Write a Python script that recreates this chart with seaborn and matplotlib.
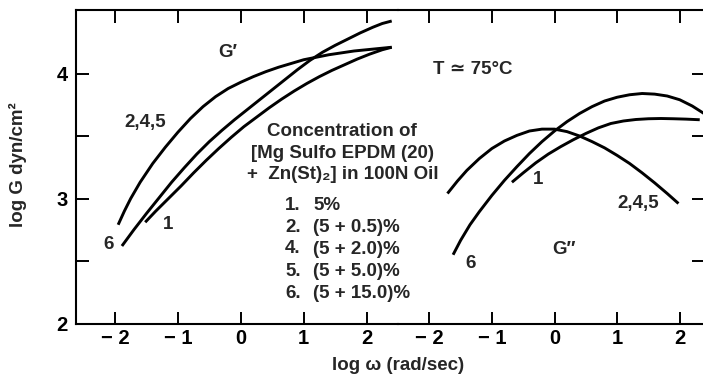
import matplotlib
matplotlib.use('Agg')
import matplotlib.pyplot as plt
import seaborn as sns

# G' curves (left panel), log w vs log G'
gp_245_x = [-1.95, -1.85, -1.75, -1.6, -1.4, -1.2, -1.0, -0.8, -0.6, -0.4, -0.2, 0.0,
            0.2, 0.4, 0.6, 0.8, 1.0, 1.2, 1.4, 1.6, 1.8, 2.0, 2.2, 2.4]
gp_245_y = [2.79, 2.90, 3.00, 3.13, 3.28, 3.41, 3.53, 3.64, 3.735, 3.815, 3.88, 3.93,
            3.975, 4.015, 4.05, 4.08, 4.11, 4.13, 4.15, 4.165, 4.18, 4.19, 4.20, 4.21]
gp_6_x = [-1.89, -1.7, -1.5, -1.3, -1.1, -0.9, -0.7, -0.5, -0.3, -0.1, 0.1, 0.3,
          0.5, 0.7, 0.9, 1.1, 1.3, 1.5, 1.7, 1.9, 2.1, 2.25, 2.4]
gp_6_y = [2.62, 2.75, 2.88, 3.005, 3.13, 3.245, 3.355, 3.455, 3.545, 3.63, 3.71, 3.79,
          3.87, 3.95, 4.03, 4.105, 4.17, 4.225, 4.275, 4.325, 4.37, 4.40, 4.42]
gp_1_x = [-1.52, -1.35, -1.15, -0.95, -0.75, -0.55, -0.35, -0.15, 0.05, 0.25, 0.45,
          0.65, 0.85, 1.05, 1.25, 1.45, 1.65, 1.85, 2.05, 2.25, 2.4]
gp_1_y = [2.81, 2.90, 3.00, 3.10, 3.205, 3.305, 3.40, 3.49, 3.575, 3.65, 3.725,
          3.795, 3.86, 3.92, 3.975, 4.025, 4.07, 4.115, 4.155, 4.19, 4.21]

# G'' curves (right panel)
gpp_245_x = [-1.71, -1.55, -1.4, -1.2, -1.0, -0.8, -0.6, -0.4, -0.2, 0.0, 0.2,
             0.4, 0.6, 0.8, 1.0, 1.2, 1.4, 1.6, 1.8, 1.98]
gpp_245_y = [3.04, 3.14, 3.225, 3.32, 3.40, 3.46, 3.505, 3.54, 3.555, 3.555, 3.535,
             3.50, 3.455, 3.405, 3.345, 3.28, 3.205, 3.125, 3.04, 2.96]
gpp_6_x = [-1.62, -1.5, -1.35, -1.2, -1.0, -0.8, -0.6, -0.4, -0.2, 0.0, 0.2, 0.4,
           0.6, 0.8, 1.0, 1.2, 1.4, 1.6, 1.8, 2.0, 2.2, 2.388]
gpp_6_y = [2.55, 2.665, 2.79, 2.895, 3.025, 3.145, 3.255, 3.36, 3.455, 3.54, 3.615, 3.68,
           3.735, 3.78, 3.81, 3.83, 3.84, 3.835, 3.82, 3.79, 3.74, 3.68]
gpp_1_x = [-0.68, -0.5, -0.3, -0.1, 0.1, 0.3, 0.5, 0.7, 0.9, 1.1, 1.3, 1.5, 1.7,
           1.9, 2.1, 2.32]
gpp_1_y = [3.13, 3.205, 3.285, 3.355, 3.415, 3.47, 3.52, 3.565, 3.60, 3.62, 3.632,
           3.638, 3.64, 3.638, 3.635, 3.63]

xticks = [-2, -1, 0, 1, 2]
xtick_labels = ['\u2212 2', '\u2212 1', '0', '1', '2']
yticks = [2, 3, 4]
yticks_minor = [2.5, 3.5]

header = ['Concentration of', '[Mg Sulfo EPDM (20)', '+  Zn(St)\u2082] in 100N Oil']
sample_no = ['1.', '2.', '4.', '5.', '6.']
sample_conc = ['5%', '(5 + 0.5)%', '(5 + 2.0)%', '(5 + 5.0)%', '(5 + 15.0)%']

sns.set_style('ticks')
plt.rcParams['font.family'] = ['Liberation Sans', 'DejaVu Sans']
plt.rcParams['font.weight'] = 'bold'
plt.rcParams['font.size'] = 13.5

fig = plt.figure(figsize=(7.03, 3.80), dpi=100)
bottom, height = 56.5 / 380, 313.5 / 380
ax1 = fig.add_axes([76 / 703, bottom, 322 / 703, height])
ax2 = fig.add_axes([398 / 703, bottom, 306 / 703, height])
ax2.patch.set_visible(False)

lw = 2.1
for xs, ys in [(gp_245_x, gp_245_y), (gp_6_x, gp_6_y), (gp_1_x, gp_1_y)]:
    sns.lineplot(x=xs, y=ys, ax=ax1, color='black', linewidth=lw, sort=False, estimator=None)
for xs, ys in [(gpp_245_x, gpp_245_y), (gpp_6_x, gpp_6_y), (gpp_1_x, gpp_1_y)]:
    sns.lineplot(x=xs, y=ys, ax=ax2, color='black', linewidth=lw, sort=False, estimator=None)
for ax in (ax1, ax2):
    for l in ax.get_lines():
        l.set_solid_capstyle('butt')
        l.set_solid_joinstyle('round')

ax1.set_xlim(-2.62, 2.5)
ax2.set_xlim(-2.5, 2.388)
for ax in (ax1, ax2):
    ax.set_ylim(2, 4.508)
    ax.set_xticks(xticks)
    ax.set_xticklabels(xtick_labels)
    ax.set_yticks(yticks)
    ax.set_yticks(yticks_minor, minor=True)
    ax.tick_params(axis='both', which='both', direction='in', length=9, width=1.4,
                   colors='black', pad=4, labelsize=14.5)
    ax.tick_params(axis='x', top=True, bottom=True)
    for s in ax.spines.values():
        s.set_linewidth(1.5)
        s.set_color('black')

ax1.tick_params(axis='y', which='both', left=True, right=False, pad=6)
ax1.spines['right'].set_visible(False)
ax2.tick_params(axis='y', which='both', left=False, right=True, labelleft=False, labelright=False)
ax2.spines['left'].set_visible(False)
ax2.spines['right'].set_visible(False)

# curve labels
ax1.text(-0.2, 4.17, 'G\u2032', ha='center', va='center')
ax1.text(-1.52, 3.61, '2,4,5', ha='center', va='center')
ax1.text(-1.16, 2.79, '1', ha='center', va='center')
ax1.text(-2.10, 2.63, '6', ha='center', va='center')

ax2.text(-1.30, 4.03, 'T \u2243 75\u00b0C', ha='center', va='center')
ax2.text(-0.27, 3.15, '1', ha='center', va='center')
ax2.text(-1.34, 2.48, '6', ha='center', va='center')
ax2.text(0.15, 2.59, 'G\u2033', ha='center', va='center')
ax2.text(1.33, 2.96, '2,4,5', ha='center', va='center')

# concentration key
for i, line in enumerate(header):
    ax1.text(1.615, 3.536 - i * 0.174, line, ha='center', va='center')
for i, (n, c) in enumerate(zip(sample_no, sample_conc)):
    yy = 2.948 - i * 0.176
    ax1.text(0.707, yy, n, ha='left', va='center')
    ax1.text(1.153, yy, c, ha='left', va='center')

fig.text(18 / 703, 1 - 165 / 380, 'log G dyn/cm\u00b2', rotation=90, ha='center', va='center')
fig.text(398 / 703, 1 - 366 / 380, 'log \u03c9 (rad/sec)', ha='center', va='center')

fig.savefig('out.png', dpi=100)
